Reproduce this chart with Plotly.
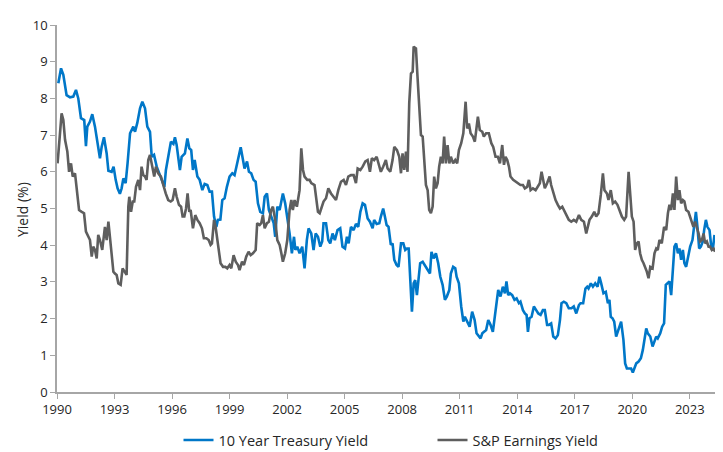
import plotly.graph_objects as go

# ---- data (decimal years) ----
tsy_years = [1990.07,1990.21,1990.33,1990.50,1990.68,1990.85,1990.99,1991.11,1991.25,1991.42,1991.51,1991.58,1991.72,1991.84,1991.98,
1992.12,1992.24,1992.33,1992.45,1992.59,1992.68,1992.85,1992.95,1993.06,1993.16,1993.28,1993.37,1993.46,1993.58,1993.68,1993.81,1993.98,
1994.07,1994.19,1994.33,1994.45,1994.59,1994.71,1994.85,1994.94,1995.06,1995.20,1995.32,1995.46,1995.60,1995.68,1995.80,1995.94,1996.07,
1996.15,1996.24,1996.41,1996.50,1996.67,1996.80,1996.90,
1997.00,1997.09,1997.18,1997.32,1997.44,1997.58,1997.70,1997.84,1997.96,1998.08,1998.19,1998.31,1998.39,1998.52,1998.62,1998.74,1998.86,
1999.00,1999.14,1999.26,1999.38,1999.49,1999.58,1999.70,1999.78,1999.91,2000.01,2000.13,2000.25,2000.36,2000.48,2000.60,2000.74,2000.83,
2000.95,2001.05,2001.17,2001.30,2001.38,2001.49,2001.61,2001.70,2001.78,2001.90,2002.01,2002.13,2002.25,2002.36,2002.43,2002.53,2002.65,
2002.79,2002.91,2003.03,2003.12,2003.26,2003.38,2003.49,2003.61,2003.73,2003.83,
2003.90,2004.03,2004.15,2004.25,2004.37,2004.49,2004.63,2004.77,2004.89,2005.02,2005.12,2005.21,2005.33,2005.47,2005.59,2005.71,2005.82,
2005.94,2006.06,2006.20,2006.32,2006.46,2006.54,2006.67,2006.81,2006.89,2007.01,2007.10,2007.19,2007.29,2007.41,2007.50,2007.59,2007.71,
2007.81,2007.94,2008.06,2008.16,2008.25,2008.34,2008.42,2008.51,2008.60,2008.68,2008.77,2008.86,2008.94,2009.07,2009.19,2009.33,2009.45,
2009.53,2009.64,2009.76,2009.88,2009.99,2010.11,2010.23,2010.33,2010.46,2010.54,2010.66,
2010.77,2010.84,2010.96,2011.08,2011.19,2011.27,2011.39,2011.52,2011.65,2011.78,2011.88,2011.97,2012.09,2012.18,2012.26,2012.38,2012.49,
2012.61,2012.73,2012.84,2012.92,2013.01,2013.13,2013.25,2013.36,2013.44,2013.53,2013.62,2013.74,2013.86,2013.97,2014.09,2014.17,2014.30,
2014.40,2014.49,2014.56,2014.64,2014.75,2014.87,2014.99,2015.10,2015.22,2015.34,2015.44,2015.56,2015.65,2015.77,2015.88,2016.00,2016.12,
2016.23,2016.31,2016.43,2016.56,2016.69,2016.83,2016.95,2017.08,2017.22,2017.30,2017.44,2017.56,
2017.65,2017.72,2017.84,2017.95,2018.07,2018.19,2018.29,2018.38,2018.50,2018.62,2018.73,2018.81,2018.88,2018.97,2019.06,2019.16,2019.23,
2019.34,2019.42,2019.54,2019.63,2019.72,2019.81,2019.94,2020.03,2020.12,2020.21,2020.33,2020.45,2020.55,2020.64,2020.73,2020.81,2020.94,
2021.06,2021.16,2021.25,2021.33,2021.46,2021.56,2021.66,2021.75,2021.84,2021.94,2022.03,2022.12,2022.20,2022.29,2022.38,2022.46,2022.55,
2022.64,2022.72,2022.81,2022.93,2023.02,2023.14,2023.23,2023.32,2023.40,2023.49,2023.58,2023.68,2023.75,2023.84,2023.92,2024.03,2024.12,
2024.20,2024.29,2024.38]
tsy_values = [8.41,8.82,8.64,8.09,8.03,8.05,8.23,8.00,7.46,7.41,6.70,7.23,7.37,7.57,7.23,
6.78,6.37,6.68,6.94,6.50,6.03,6.00,6.14,5.78,5.55,5.40,5.55,5.82,5.69,6.23,7.05,7.23,
7.09,7.34,7.73,7.91,7.73,7.23,7.09,6.41,6.46,6.14,5.96,5.78,5.59,6.05,6.41,6.82,6.76,
6.94,6.73,6.05,6.41,6.50,6.91,6.64,
6.59,6.05,6.32,5.87,5.78,5.50,5.67,5.64,5.46,5.46,4.78,4.50,4.69,4.70,5.23,5.28,5.59,
5.87,5.96,5.91,6.19,6.41,6.67,6.32,6.09,6.28,6.00,5.96,5.78,5.73,5.14,4.91,4.87,5.32,
5.41,4.96,4.78,4.60,4.23,5.05,4.96,5.23,5.41,5.14,4.78,4.32,3.78,4.23,3.87,3.96,3.78,
3.96,3.37,4.14,4.46,4.32,3.87,4.32,4.23,3.96,4.10,
4.60,4.60,4.14,4.05,4.32,4.14,4.41,4.46,3.96,3.91,4.23,4.05,4.50,4.41,4.58,4.50,4.91,
5.14,5.10,4.73,4.64,4.46,4.69,4.58,4.60,4.78,5.00,4.78,4.55,4.50,4.01,4.05,3.60,3.46,
3.41,4.05,4.05,3.87,3.91,3.91,3.23,2.19,2.96,3.05,2.64,3.05,3.51,3.55,3.46,3.32,3.23,
3.82,3.64,3.78,3.51,3.14,2.92,2.51,2.60,2.78,3.23,3.41,
3.37,3.14,2.96,2.33,1.92,2.05,1.92,1.78,2.19,1.96,1.60,1.55,1.46,1.60,1.64,1.69,1.96,
1.83,1.64,2.14,2.55,2.78,2.60,2.87,2.69,3.01,2.64,2.69,2.64,2.51,2.55,2.42,2.46,2.23,
2.14,2.10,1.64,2.01,2.05,2.33,2.23,2.14,2.10,2.23,2.23,1.83,1.83,1.87,1.51,1.46,1.55,
1.96,2.42,2.46,2.42,2.28,2.28,2.33,2.14,2.37,2.42,2.42,2.82,
2.87,2.82,2.96,2.87,2.96,2.87,3.14,2.96,2.69,2.73,2.42,2.51,2.05,2.01,1.92,1.51,1.64,
1.78,1.92,1.42,0.78,0.64,0.64,0.64,0.53,0.64,0.78,0.83,0.92,1.14,1.46,1.73,1.60,1.51,
1.24,1.37,1.51,1.46,1.60,1.78,1.87,2.92,2.96,3.01,2.64,3.23,3.96,4.05,3.78,3.91,3.60,
3.87,3.51,3.41,3.69,3.96,4.14,4.60,4.91,4.50,3.91,3.96,4.10,4.41,4.69,4.50,4.41,3.96,
3.87,4.28]

ey_years = [1990.03,1990.24,1990.33,1990.42,1990.54,1990.63,1990.73,1990.82,1990.94,1991.03,1991.15,1991.29,1991.41,1991.51,1991.63,
1991.72,1991.81,1991.89,1991.98,1992.07,1992.15,1992.24,1992.36,1992.50,1992.59,1992.68,1992.76,1992.85,1992.94,1993.02,1993.11,
1993.20,1993.32,1993.42,1993.55,1993.63,1993.72,1993.77,1993.86,1993.95,1994.03,1994.12,1994.24,1994.33,1994.41,1994.50,1994.59,
1994.67,1994.76,1994.85,1994.97,1995.07,1995.16,1995.28,1995.42,1995.54,1995.67,1995.80,1995.93,1996.03,1996.15,1996.24,1996.36,
1996.47,1996.55,1996.64,1996.73,1996.81,1996.90,
1996.97,1997.09,1997.21,1997.32,1997.44,1997.56,1997.66,1997.79,1997.91,1998.01,1998.08,1998.19,1998.27,1998.36,1998.45,1998.53,
1998.66,1998.78,1998.88,1999.00,1999.09,1999.21,1999.32,1999.44,1999.52,1999.65,1999.75,1999.87,1999.99,2000.10,2000.22,2000.36,
2000.44,2000.57,2000.65,2000.74,2000.83,2000.95,2001.05,2001.17,2001.26,2001.38,2001.49,2001.61,2001.70,2001.78,2001.90,2002.01,
2002.13,2002.22,2002.30,2002.39,2002.51,2002.65,2002.74,2002.83,2002.91,2003.05,2003.17,2003.26,2003.43,2003.52,2003.61,2003.70,
2003.82,
2003.90,2004.03,2004.15,2004.29,2004.42,2004.55,2004.67,2004.81,2004.95,2005.07,2005.19,2005.33,2005.47,2005.59,2005.68,2005.82,
2005.94,2006.08,2006.20,2006.32,2006.42,2006.54,2006.67,2006.77,2006.89,2007.01,2007.15,2007.24,2007.38,2007.50,2007.59,2007.73,
2007.85,2007.94,2008.02,2008.11,2008.20,2008.28,2008.37,2008.46,2008.55,2008.60,2008.72,2008.80,2008.89,2008.98,2009.07,2009.15,
2009.24,2009.33,2009.41,2009.50,2009.59,2009.67,2009.76,2009.85,2009.93,2010.02,2010.11,2010.19,2010.28,2010.37,2010.46,2010.54,
2010.66,2010.77,
2010.87,2010.96,2011.08,2011.19,2011.31,2011.39,2011.48,2011.57,2011.69,2011.79,2011.88,2011.95,2012.05,2012.18,2012.26,2012.38,
2012.52,2012.65,2012.75,2012.87,2012.99,2013.10,2013.22,2013.31,2013.39,2013.48,2013.57,2013.65,2013.79,2013.91,2014.04,2014.17,
2014.30,2014.40,2014.52,2014.61,2014.70,2014.82,2014.96,2015.08,2015.18,2015.27,2015.36,2015.44,2015.56,2015.69,2015.77,2015.88,
2016.00,2016.12,2016.23,2016.35,2016.47,2016.57,2016.69,2016.82,2016.95,2017.08,2017.22,2017.34,2017.48,2017.60,2017.70,
2017.77,2017.89,2018.02,2018.12,2018.24,2018.36,2018.47,2018.55,2018.68,2018.76,2018.88,2018.99,2019.11,2019.23,2019.34,2019.46,
2019.58,2019.68,2019.81,2019.89,2019.98,2020.07,2020.15,2020.24,2020.33,2020.41,2020.50,2020.59,2020.67,2020.76,2020.85,2020.94,
2021.06,2021.16,2021.25,2021.33,2021.42,2021.54,2021.66,2021.77,2021.86,2021.94,2022.03,2022.12,2022.20,2022.29,2022.38,2022.46,
2022.55,2022.64,2022.72,2022.81,2022.93,2023.02,2023.11,2023.19,2023.28,2023.37,2023.46,2023.54,2023.63,2023.72,2023.80,2023.89,
2023.98,2024.06,2024.15,2024.24,2024.32]
ey_values = [6.23,7.59,7.41,6.87,6.55,6.00,6.23,5.87,5.96,5.50,4.96,4.91,4.87,4.37,4.23,
4.14,3.69,3.96,3.87,3.64,4.28,4.14,3.87,4.50,4.14,4.64,4.23,3.78,3.28,3.23,3.19,
2.96,2.92,3.37,3.23,3.19,5.05,5.32,4.91,5.19,5.19,5.59,5.78,5.50,6.14,5.91,5.87,
5.78,6.32,6.46,6.14,5.87,6.14,5.96,5.87,5.64,5.41,5.23,5.19,5.23,5.55,5.32,5.10,
5.05,4.78,4.78,5.00,5.41,4.91,
4.96,4.46,4.82,4.69,4.60,4.46,4.19,4.19,4.14,4.01,4.05,4.69,4.50,4.14,3.78,3.51,
3.41,3.41,3.37,3.46,3.37,3.73,3.55,3.46,3.32,3.55,3.46,3.69,3.82,3.73,3.78,3.87,
4.60,4.55,4.60,4.82,4.46,4.60,4.64,4.96,5.05,4.69,4.14,4.01,3.78,3.55,3.78,4.14,
4.96,5.23,4.96,5.23,5.05,5.50,6.64,6.05,5.87,5.78,5.78,5.69,5.64,5.23,4.91,4.87,
5.05,
5.19,5.28,5.55,5.41,5.32,5.23,5.50,5.73,5.78,5.64,5.87,5.91,5.91,5.69,6.09,6.05,
6.14,6.28,6.32,6.00,6.37,6.32,6.41,6.23,6.00,6.14,6.32,6.09,6.00,6.32,6.68,6.59,
6.41,5.96,6.50,6.05,6.55,6.00,7.87,8.68,8.73,9.41,9.36,8.60,7.87,7.00,6.96,6.32,
5.64,5.50,4.96,4.87,5.05,5.87,5.55,5.69,6.14,6.41,6.23,6.96,6.23,6.73,6.23,6.41,
6.23,6.32,
6.23,6.59,6.78,7.05,7.91,7.18,7.32,7.05,6.96,6.82,7.14,7.50,7.14,7.09,6.96,7.05,
7.05,6.78,6.68,6.41,6.41,6.23,6.73,6.19,6.41,6.32,6.14,5.87,5.78,5.73,5.69,5.64,
5.64,5.55,5.59,5.78,5.50,5.55,5.50,5.59,5.69,6.00,5.69,5.55,5.69,5.87,5.64,5.41,
5.23,5.10,5.00,5.05,4.91,4.78,4.69,4.64,4.69,4.64,4.82,4.69,4.64,4.32,4.60,
4.69,4.78,4.91,4.78,4.87,5.37,5.96,5.50,5.41,5.23,5.50,5.14,5.19,5.10,4.96,4.78,
4.69,4.78,6.00,5.32,4.78,4.64,3.87,4.05,4.10,3.78,3.60,3.51,3.41,3.28,3.10,3.41,
3.37,3.78,3.91,3.87,4.14,4.05,4.50,4.41,4.87,5.10,4.96,5.41,4.96,5.87,5.23,5.50,
5.14,5.23,5.19,4.96,4.91,4.78,4.60,4.50,4.64,4.50,4.32,4.10,4.14,4.32,4.05,4.10,
3.96,3.96,3.87,3.91,3.82]

x_ticks = [1990, 1993, 1996, 1999, 2002, 2005, 2008, 2011, 2014, 2017, 2020, 2023]
x_tick_labels = [str(t) for t in x_ticks]
y_ticks = list(range(0, 11))

series_names = ["10 Year Treasury Yield", "S&P Earnings Yield"]
BLUE = "#0077C8"
GRAY = "#5E5E5E"

fig = go.Figure()
fig.add_trace(go.Scatter(x=tsy_years, y=tsy_values, mode="lines", name=series_names[0],
                         line=dict(color=BLUE, width=2.6)))
fig.add_trace(go.Scatter(x=ey_years, y=ey_values, mode="lines", name=series_names[1],
                         line=dict(color=GRAY, width=2.6)))

axis_col = "#A6A6A6"
font_col = "#262626"
# the page body adds an 8px offset, so the figure is 8px smaller on each side
fig.update_layout(
    width=715, height=444,
    margin=dict(l=49, r=6, t=17, b=60, autoexpand=False),
    paper_bgcolor="white", plot_bgcolor="white",
    font=dict(family="Open Sans, sans-serif", size=13, color=font_col),
    showlegend=True,
    legend=dict(orientation="h", x=(178.5 - 57) / 660, xanchor="left",
                y=(392 - 440) / 367, yanchor="middle",
                font=dict(size=14.5, color=font_col),
                entrywidth=209, entrywidthmode="pixels",
                bgcolor="rgba(0,0,0,0)"),
    xaxis=dict(range=[1990, 2024.42], tickmode="array", tickvals=x_ticks, ticktext=x_tick_labels,
               showgrid=False, zeroline=False, showline=True, linecolor=axis_col, linewidth=1.5,
               ticks="outside", ticklen=5, tickcolor=axis_col, tickwidth=1.2,
               tickfont=dict(size=13, color=font_col), automargin=False),
    yaxis=dict(range=[0, 10], tickmode="array", tickvals=y_ticks,
               showgrid=False, zeroline=False, showline=True, linecolor=axis_col, linewidth=1.5,
               ticks="outside", ticklen=5, tickcolor=axis_col, tickwidth=1.2,
               tickfont=dict(size=13, color=font_col), automargin=False),
    annotations=[dict(text="Yield (%)", textangle=-90, xref="paper", yref="paper",
                      x=(22 - 57) / 660, y=(392 - 210) / 367, showarrow=False,
                      xanchor="center", yanchor="middle",
                      font=dict(size=14, color=font_col))],
)

fig.write_html("out.html")
